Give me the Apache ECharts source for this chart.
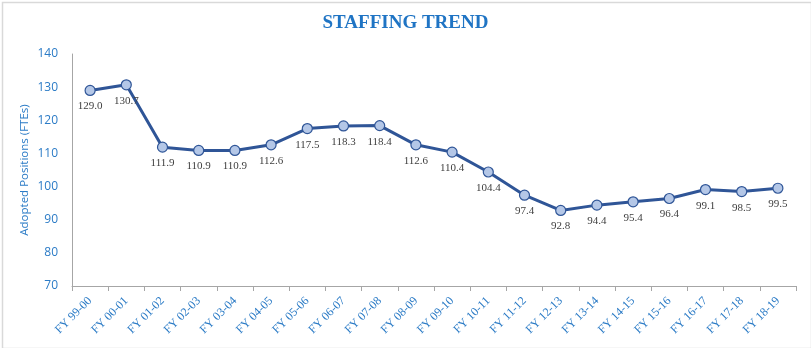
<!DOCTYPE html>
<html>
<head>
<meta charset="utf-8">
<script src="https://cdn.jsdelivr.net/npm/echarts@6/dist/echarts.min.js"></script>
<style>
  html, body { margin: 0; padding: 0; background: #ffffff; }
  #chart { width: 811px; height: 348px; }
</style>
</head>
<body>
<div id="chart"></div>
<script>
// Fiscal years on the category axis
const fiscalYears = [
  'FY 99-00', 'FY 00-01', 'FY 01-02', 'FY 02-03', 'FY 03-04',
  'FY 04-05', 'FY 05-06', 'FY 06-07', 'FY 07-08', 'FY 08-09',
  'FY 09-10', 'FY 10-11', 'FY 11-12', 'FY 12-13', 'FY 13-14',
  'FY 14-15', 'FY 15-16', 'FY 16-17', 'FY 17-18', 'FY 18-19'
];

// Adopted positions (FTEs) per fiscal year
const adoptedFTEs = [
  129.0, 130.7, 111.9, 110.9, 110.9,
  112.6, 117.5, 118.3, 118.4, 112.6,
  110.4, 104.4, 97.4, 92.8, 94.4,
  95.4, 96.4, 99.1, 98.5, 99.5
];

const chart = echarts.init(document.getElementById('chart'), null, { renderer: 'canvas' });

const serif = '"Liberation Serif", "Times New Roman", serif';
const sans = '"Open Sans", "Noto Sans", sans-serif';
const blue = '#2b7bc6';

chart.setOption({
  backgroundColor: '#ffffff',
  animation: false,
  title: {
    text: 'STAFFING TREND',
    left: 'center',
    top: 9,
    textStyle: {
      fontFamily: serif,
      fontSize: 19,
      fontWeight: 'bold',
      color: '#1f74c4'
    }
  },
  graphic: [{
    type: 'rect',
    left: 0,
    top: 0,
    shape: { width: 809, height: 346 },
    style: { fill: 'none', stroke: '#d9d9d9', lineWidth: 1.5 },
    silent: true
  }],
  grid: {
    left: 72,
    right: 15,
    top: 54,
    bottom: 62
  },
  xAxis: {
    type: 'category',
    data: fiscalYears,
    boundaryGap: true,
    axisLine: { show: true, lineStyle: { color: '#a6a6a6', width: 1 } },
    axisTick: { show: true, inside: false, length: 5, lineStyle: { color: '#a6a6a6' } },
    axisLabel: {
      rotate: 45,
      interval: 0,
      margin: 13,
      fontFamily: serif,
      fontSize: 12,
      color: blue
    },
    splitLine: { show: false }
  },
  yAxis: {
    type: 'value',
    min: 70,
    max: 140,
    interval: 10,
    name: 'Adopted Positions (FTEs)',
    nameLocation: 'middle',
    nameGap: 41,
    nameMoveOverlap: false,
    nameTextStyle: {
      fontFamily: sans,
      fontSize: 11.5,
      color: blue
    },
    axisLine: { show: true, lineStyle: { color: '#a6a6a6', width: 1 } },
    axisTick: { show: false },
    axisLabel: {
      margin: 14,
      fontFamily: sans,
      fontSize: 12,
      color: blue
    },
    splitLine: { show: false }
  },
  series: [{
    type: 'line',
    data: adoptedFTEs,
    symbol: 'circle',
    symbolSize: 10,
    lineStyle: { color: '#2f5597', width: 3 },
    itemStyle: { color: '#b4c7e7', borderColor: '#2f5597', borderWidth: 1.2 },
    label: {
      show: true,
      position: 'bottom',
      distance: 5,
      fontFamily: serif,
      fontSize: 11,
      color: '#404040',
      formatter: p => p.value.toFixed(1)
    }
  }]
});
</script>
</body>
</html>
